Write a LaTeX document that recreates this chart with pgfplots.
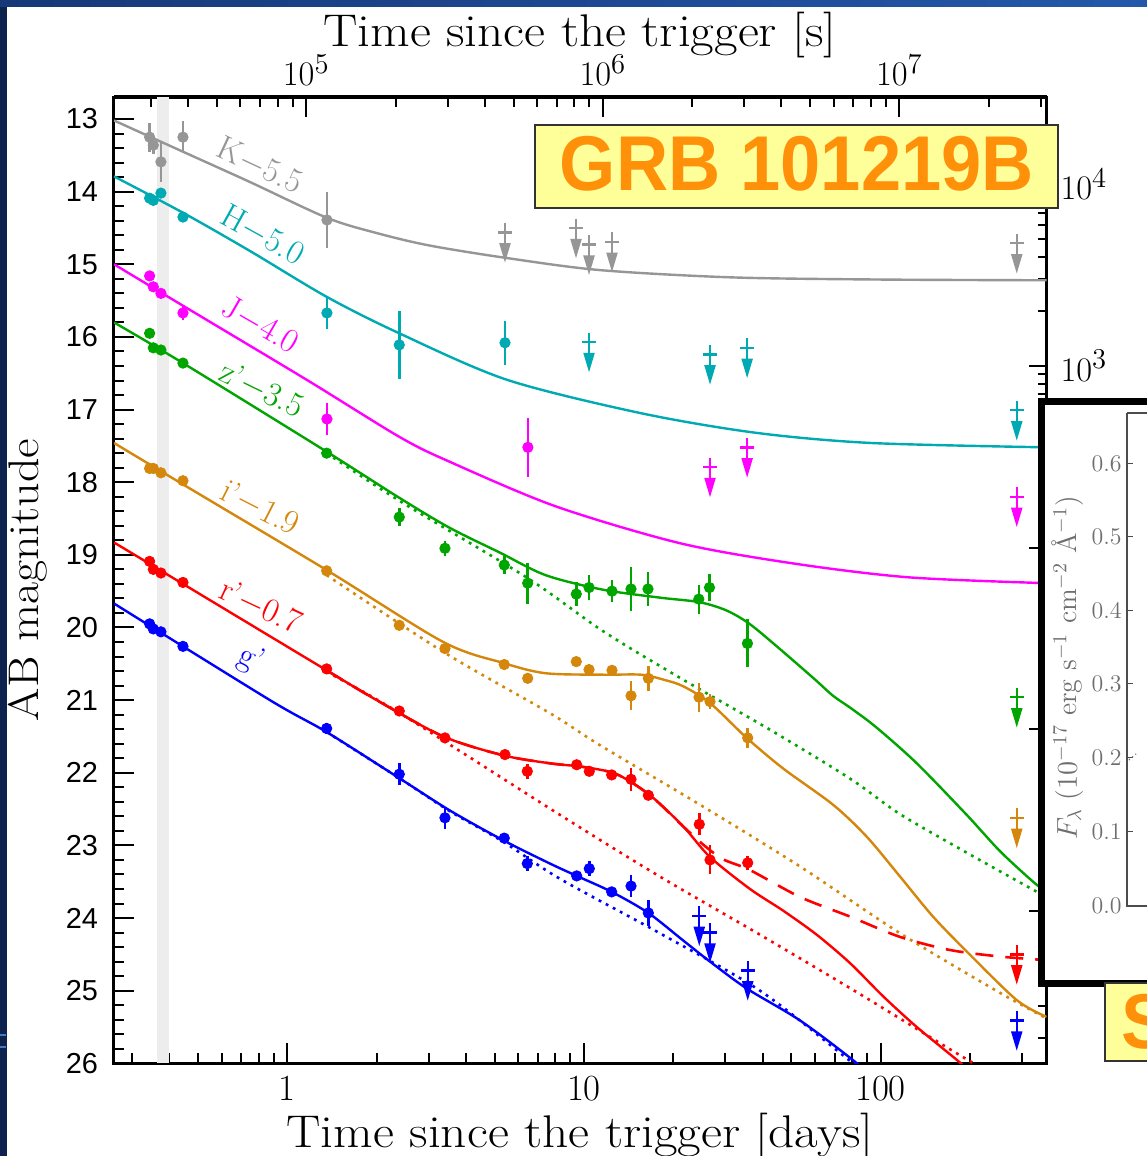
\documentclass[border=0pt]{standalone}
\usepackage{fontspec}
\usepackage{pgfplots}
\pgfplotsset{compat=1.18}
\newfontfamily\lsans{Liberation Sans}
\newfontfamily\grbfont{Liberation Sans}[FakeStretch=0.93]
\newfontfamily\wideserif{Latin Modern Roman}[FakeStretch=1.12]
\definecolor{cK}{RGB}{150,150,150}
\definecolor{cH}{RGB}{0,170,178}
\definecolor{cJ}{RGB}{255,0,255}
\definecolor{cz}{RGB}{0,165,0}
\definecolor{ci}{RGB}{212,135,10}
\definecolor{cr}{RGB}{255,0,0}
\definecolor{cg}{RGB}{0,0,255}
\definecolor{navy}{RGB}{14,34,78}
\definecolor{topL}{RGB}{22,56,120}
\definecolor{topR}{RGB}{36,88,170}
\definecolor{lblue}{RGB}{70,120,200}
\definecolor{ybox}{RGB}{255,255,153}
\definecolor{grbor}{RGB}{255,145,10}
\definecolor{insetgray}{RGB}{110,110,110}

\pgfdeclareplotmark{ulim}{%
  \pgfpathmoveto{\pgfqpoint{-3.4bp}{0bp}}%
  \pgfpathlineto{\pgfqpoint{3.4bp}{0bp}}%
  \pgfpathmoveto{\pgfqpoint{0bp}{4.7bp}}%
  \pgfpathlineto{\pgfqpoint{0bp}{-8bp}}%
  \pgfusepathqstroke
  \pgfpathmoveto{\pgfqpoint{-2.1bp}{-6bp}}%
  \pgfpathlineto{\pgfqpoint{2.1bp}{-6bp}}%
  \pgfpathlineto{\pgfqpoint{0bp}{-13bp}}%
  \pgfpathclose
  \pgfusepathqfillstroke
}

\pgfplotsset{
  model/.style={no markers, line width=1.2bp, smooth},
  modeldot/.style={no markers, line width=1.3bp, smooth, dash pattern=on 1.4bp off 2.6bp},
  modeldash/.style={no markers, line width=1.3bp, smooth, dash pattern=on 9bp off 6bp},
  pts/.style={only marks, mark=*, mark size=2.6bp,
    error bars/y dir=both, error bars/y explicit,
    error bars/error bar style={line width=1.3bp}, error bars/error mark=none},
  lims/.style={only marks, mark=ulim, mark options={solid, line width=1.2bp}},
  every non boxed x axis/.append style={x axis line style=-},
  every non boxed y axis/.append style={y axis line style=-},
}

\begin{document}
\begin{tikzpicture}
% ---------- background (pixel coordinates) ----------
\begin{scope}[shift={(0bp,578bp)},x=0.5bp,y=-0.5bp]
  \fill[navy] (0,0) rectangle (1147,1156);
  \shade[left color=topL, right color=topR] (0,0) rectangle (1147,7);
  \fill[white] (7,7) rectangle (1147,1156);
  \draw[lblue, line width=0.8bp] (0,1035) -- (6,1035) (0,1047) -- (6,1047);
\end{scope}

% ---------- top axis: seconds ----------
\begin{axis}[
  at={(57bp,46.35bp)}, anchor=south west,
  scale only axis, width=466.25bp, height=483.15bp,
  xmode=log, xmin=22472.6, xmax=31354560, ymin=0, ymax=1,
  axis x line*=top, hide y axis,
  xtick={1e5,1e6,1e7}, xticklabels={$10^{5}$,$10^{6}$,$10^{7}$},
  minor xtick={30000,40000,50000,60000,70000,80000,90000,200000,300000,400000,500000,600000,700000,800000,900000,2000000,3000000,4000000,5000000,6000000,7000000,8000000,9000000,20000000,30000000},
  tick align=inside, major tick length=10bp, minor tick length=5bp,
  axis line style={-, line width=1.5bp},
  every tick/.append style={line width=1bp, black},
  xticklabel style={font=\fontsize{19}{19}\selectfont, yshift=2bp},
]
\end{axis}

% ---------- right axis: flux ----------
\begin{axis}[
  at={(57bp,46.35bp)}, anchor=south west,
  scale only axis, width=466.25bp, height=483.15bp,
  ymode=log, ymin=0.14454, ymax=30284, xmin=0, xmax=1,
  axis y line*=right, hide x axis,
  ytick={0.1,1,10,100,1000,10000},
  yticklabels={$10^{-1}$,$10^{0}$,$10^{1}$,$10^{2}$,$10^{3}$,$10^{4}$},
  minor ytick={0.2,0.3,0.4,0.5,0.6,0.7,0.8,0.9,2,3,4,5,6,7,8,9,20,30,40,50,60,70,80,90,200,300,400,500,600,700,800,900,2000,3000,4000,5000,6000,7000,8000,9000,20000,30000},
  tick align=inside, major tick length=9bp, minor tick length=4.5bp,
  axis line style={-, line width=1.5bp},
  every tick/.append style={line width=1bp, black},
  yticklabel style={font=\fontsize{19}{19}\selectfont, xshift=3.5bp},
]
\end{axis}

% ---------- main axis ----------
\begin{axis}[
  at={(57bp,46.35bp)}, anchor=south west,
  scale only axis, width=466.25bp, height=483.15bp,
  xmode=log, xmin=0.2601, xmax=362.9,
  ymin=12.697, ymax=26, y dir=reverse,
  xtick pos=left, ytick pos=left,
  xtick={1,10,100}, xticklabels={1,10,100},
  minor xtick={0.3,0.4,0.5,0.6,0.7,0.8,0.9,2,3,4,5,6,7,8,9,20,30,40,50,60,70,80,90,200,300},
  ytick={13,14,15,16,17,18,19,20,21,22,23,24,25,26},
  yticklabels={13,14,15,16,17,18,19,20,21,22,23,24,25,26},
  minor y tick num=4,
  tick align=inside, major tick length=10bp, minor tick length=5bp,
  axis line style={line width=1.5bp},
  every tick/.append style={line width=1bp, black},
  xticklabel style={font=\fontsize{18.5}{18.5}\selectfont, yshift=-3bp},
  yticklabel style={font=\lsans\fontsize{14.5}{14.5}\selectfont, xshift=-4.5bp},
]
% shaded epoch band
\addplot[draw=none, fill=black!7] coordinates {(0.363,12.697) (0.398,12.697) (0.398,26) (0.363,26)} -- cycle;

% ===== K - 5.5 =====
\addplot[model, cK] table {
0.2601 13.02
0.4443 13.45
0.75 13.87
1.359 14.36
2.0 14.57
3.0 14.74
5.415 14.91
11.32 15.08
31.4 15.18
100 15.21
362.9 15.22
};
\addplot[pts, cK] table[x=t, y=m, y error=e] {
t m e
0.343 13.25 0.20
0.353 13.36 0.12
0.3745 13.59 0.28
0.4443 13.25 0.22
1.359 14.39 0.38
};
\addplot[lims, cK] table {
5.415 14.56
9.40 14.50
10.40 14.73
12.43 14.69
288 14.71
};

% ===== H - 5.0 =====
\addplot[model, cH] table {
0.2601 13.79
0.4443 14.29
0.75 14.82
1.359 15.45
2.383 15.95
5.499 16.59
15.57 17.05
38.03 17.32
92.9 17.46
362.9 17.52
};
\addplot[pts, cH] table[x=t, y=m, y error=e] {
t m e
0.343 14.09 0.05
0.353 14.12 0.05
0.3745 14.02 0.05
0.4443 14.35 0.05
1.359 15.67 0.22
2.383 16.11 0.47
5.415 16.08 0.30
};
\addplot[lims, cH] table {
10.40 16.07
26.61 16.24
35.5 16.15
288 17.01
};

% ===== J - 4.0 =====
\addplot[model, cJ] table {
0.2601 15.00
0.4443 15.57
1.161 16.59
2.395 17.38
3.532 17.72
8.0 18.33
21.08 18.84
51.09 19.12
124.8 19.31
362.9 19.39
};
\addplot[pts, cJ] table[x=t, y=m, y error=e] {
t m e
0.343 15.16 0.06
0.353 15.31 0.04
0.3745 15.40 0.04
0.4443 15.67 0.10
1.359 17.13 0.22
6.47 17.52 0.41
};
\addplot[lims, cJ] table {
26.61 17.79
35.5 17.52
288 18.20
};

% ===== z' - 3.5 =====
\addplot[modeldot, cz] table {
1.356 17.60
2.395 18.26
6.40 19.31
11.59 20.05
21.01 20.69
42.89 21.42
78.9 22.08
116.4 22.57
195.3 23.10
326.9 23.61
362.9 23.71
};
\addplot[model, cz] table {
0.2601 15.80
0.4443 16.36
1.356 17.58
2.395 18.22
3.532 18.63
5.209 18.97
7.43 19.28
11.59 19.48
18.11 19.59
24.39 19.65
30.01 19.76
35.88 19.94
44.4 20.25
59.49 20.70
69.16 20.94
80.01 21.12
97.1 21.38
132.5 21.87
195.3 22.58
252.9 23.08
326.9 23.50
362.9 23.64
};
\addplot[pts, cz] table[x=t, y=m, y error=e] {
t m e
0.343 15.95 0.04
0.353 16.15 0.04
0.3745 16.18 0.04
0.4443 16.36 0.04
1.356 17.60 0.06
2.383 18.48 0.12
3.398 18.91 0.10
5.385 19.14 0.12
6.46 19.39 0.28
9.42 19.54 0.17
10.40 19.45 0.17
12.43 19.50 0.15
14.41 19.47 0.30
16.44 19.47 0.23
24.39 19.61 0.20
26.50 19.45 0.18
35.58 20.22 0.33
};
\addplot[lims, cz] table {
288 20.96
};

% ===== i' - 1.9 =====
\addplot[modeldot, ci] table {
1.356 19.28
3.398 20.35
7.68 21.18
11.32 21.62
24.61 22.44
53.52 23.29
116.4 24.21
252.9 25.03
362.9 25.38
};
\addplot[model, ci] table {
0.2601 17.46
0.4443 18.03
1.356 19.21
3.354 20.20
5.36 20.49
7.43 20.63
11.59 20.65
15.57 20.65
18.62 20.72
21.62 20.81
26.61 21.04
35.38 21.52
46.91 21.94
69.16 22.44
89.83 22.88
116.4 23.43
150.3 23.98
195.3 24.46
288 25.13
362.9 25.36
};
\addplot[pts, ci] table[x=t, y=m, y error=e] {
t m e
0.343 17.81 0.04
0.353 17.81 0.04
0.3745 17.87 0.04
0.4443 17.98 0.04
1.356 19.22 0.04
2.383 19.97 0.06
3.398 20.29 0.06
5.385 20.51 0.04
6.46 20.70 0.05
9.42 20.47 0.06
10.40 20.58 0.08
12.43 20.59 0.06
14.41 20.94 0.20
16.48 20.70 0.17
24.43 20.96 0.20
26.61 21.02 0.10
35.66 21.52 0.14
};
\addplot[lims, ci] table {
288 22.62
};

% ===== r' - 0.7 =====
\addplot[modeldot, cr] table {
1.356 20.61
2.395 21.18
8.30 22.58
18.04 23.43
39.24 24.23
83.12 25.02
185.4 25.89
252.9 26.2
};
\addplot[modeldash, cr] table {
1.356 20.59
2.0 21.0
3.354 21.50
5.344 21.76
7.68 21.87
9.945 21.92
12.89 22.02
16.70 22.31
21.62 22.74
25.25 22.99
29.43 23.19
36.30 23.34
53.52 23.71
78.9 23.98
116.4 24.26
171.6 24.44
252.9 24.53
362.9 24.58
};
\addplot[model, cr] table {
0.2601 18.83
0.4443 19.40
1.356 20.59
2.0 21.0
3.354 21.50
5.344 21.76
7.68 21.87
9.945 21.92
12.89 22.02
16.70 22.31
21.62 22.74
26.61 23.16
36.30 23.60
47.01 23.90
60.94 24.23
78.9 24.62
102.2 25.08
132.5 25.50
185.4 25.99
225 26.3
};
\addplot[pts, cr] table[x=t, y=m, y error=e] {
t m e
0.343 19.09 0.03
0.353 19.20 0.03
0.3745 19.25 0.03
0.4443 19.38 0.03
1.356 20.57 0.04
2.383 21.15 0.04
3.398 21.52 0.04
5.415 21.75 0.04
6.44 21.98 0.10
9.45 21.89 0.04
10.42 21.98 0.05
12.40 22.03 0.05
14.41 22.09 0.16
16.48 22.31 0.04
24.48 22.71 0.15
26.61 23.20 0.20
35.66 23.24 0.10
};
\addplot[lims, cr] table {
288 24.50
};

% ===== g' =====
\addplot[modeldot, cg] table {
1.356 21.44
2.395 22.08
3.532 22.53
5.344 22.95
8.30 23.46
18.04 24.21
39.24 25.00
76.91 25.93
100 26.3
};
\addplot[model, cg] table {
0.2601 19.67
0.873 21.0
1.356 21.44
2.395 22.08
3.532 22.52
5.344 22.93
7.68 23.25
9.45 23.42
12.40 23.64
16.48 23.93
21.62 24.31
26.61 24.60
35.38 24.97
53.52 25.41
80.95 25.96
100 26.3
};
\addplot[pts, cg] table[x=t, y=m, y error=e] {
t m e
0.343 19.95 0.03
0.353 20.02 0.03
0.3745 20.06 0.03
0.4443 20.26 0.03
1.356 21.39 0.08
2.383 22.02 0.15
3.398 22.62 0.15
5.385 22.90 0.04
6.44 23.25 0.10
9.45 23.42 0.04
10.42 23.32 0.10
12.40 23.64 0.04
14.41 23.56 0.15
16.48 23.93 0.18
};
\addplot[lims, cg] table {
24.48 23.97
26.61 24.20
35.66 24.72
288 25.41
};
\end{axis}

% ---------- foreground (pixel coordinates) ----------
\begin{scope}[shift={(0bp,578bp)},x=0.5bp,y=-0.5bp]
  % axis titles
  \node[font=\wideserif\fontsize{21.5}{22}\selectfont, rotate=90] at (28,580) {AB magnitude};
  \node[font=\wideserif\fontsize{23}{24}\selectfont, anchor=base] at (580,1148) {Time since the trigger [days]};
  \node[font=\wideserif\fontsize{23}{24}\selectfont, anchor=base] at (580,47) {Time since the trigger [s]};
  % band labels (bottom of text sits just above each curve)
  \begin{scope}[every node/.style={font=\fontsize{17}{17}\selectfont, inner sep=0pt, anchor=south}]
    \node[cK, rotate=-25] at (254,178) {K$-$5.5};
    \node[cH, rotate=-29] at (256,247) {H$-$5.0};
    \node[cJ, rotate=-30] at (254,337) {J$-$4.0};
    \node[cz, rotate=-26] at (256,402) {z'$-$3.5};
    \node[ci, rotate=-27] at (254,520) {i'$-$1.9};
    \node[cr, rotate=-25] at (255,619) {r'$-$0.7};
    \node[cg, rotate=-25] at (244,674) {g'};
  \end{scope}
  % title box
  \filldraw[fill=ybox, draw=black!80, line width=0.6bp] (535,125) rectangle (1058,208);
  \node[text=grbor, font=\grbfont\bfseries\fontsize{39}{39}\selectfont, anchor=base] at (797,191) {GRB 101219B};
  % partial inset panel on the right
  \begin{scope}
    \clip (0,0) rectangle (1147,1156);
    \filldraw[fill=white, draw=black, line width=3.5bp] (1041.5,402) rectangle (1300,984);
    \draw[black!70, line width=0.6bp] (1127,413) -- (1127,906) -- (1300,906);
    \draw[black!70, line width=0.6bp] (1127,413) -- (1300,413);
    \foreach \v/\yy in {0.0/906,0.1/832,0.2/758,0.3/684,0.4/611,0.5/537,0.6/464}{
      \draw[black!70, line width=0.5bp] (1127,\yy) -- (1133,\yy);
      \node[text=insetgray, font=\fontsize{12}{12}\selectfont, anchor=east, inner sep=0.5bp] at (1123,\yy) {\v};
    }
    \draw[insetgray, line width=0.6bp, dash pattern=on 0.6bp off 1.5bp] (1129,760) -- (1136,754);
    \node[text=insetgray, rotate=90, inner sep=0pt, font=\fontsize{14}{14}\selectfont] at (1068,668) {$F_\lambda$ ($10^{-17}$ erg s$^{-1}$ cm$^{-2}$ Å$^{-1}$)};
    \filldraw[fill=ybox, draw=black!80, line width=0.6bp] (1105,983) rectangle (1300,1061);
    \node[text=grbor, font=\grbfont\bfseries\fontsize{39}{39}\selectfont, anchor=base west, inner sep=0pt] at (1121,1049) {S};
  \end{scope}
\end{scope}
\pgfresetboundingbox
\path[use as bounding box] (0bp,0bp) rectangle (573.5bp,578bp);
\end{tikzpicture}
\end{document}
